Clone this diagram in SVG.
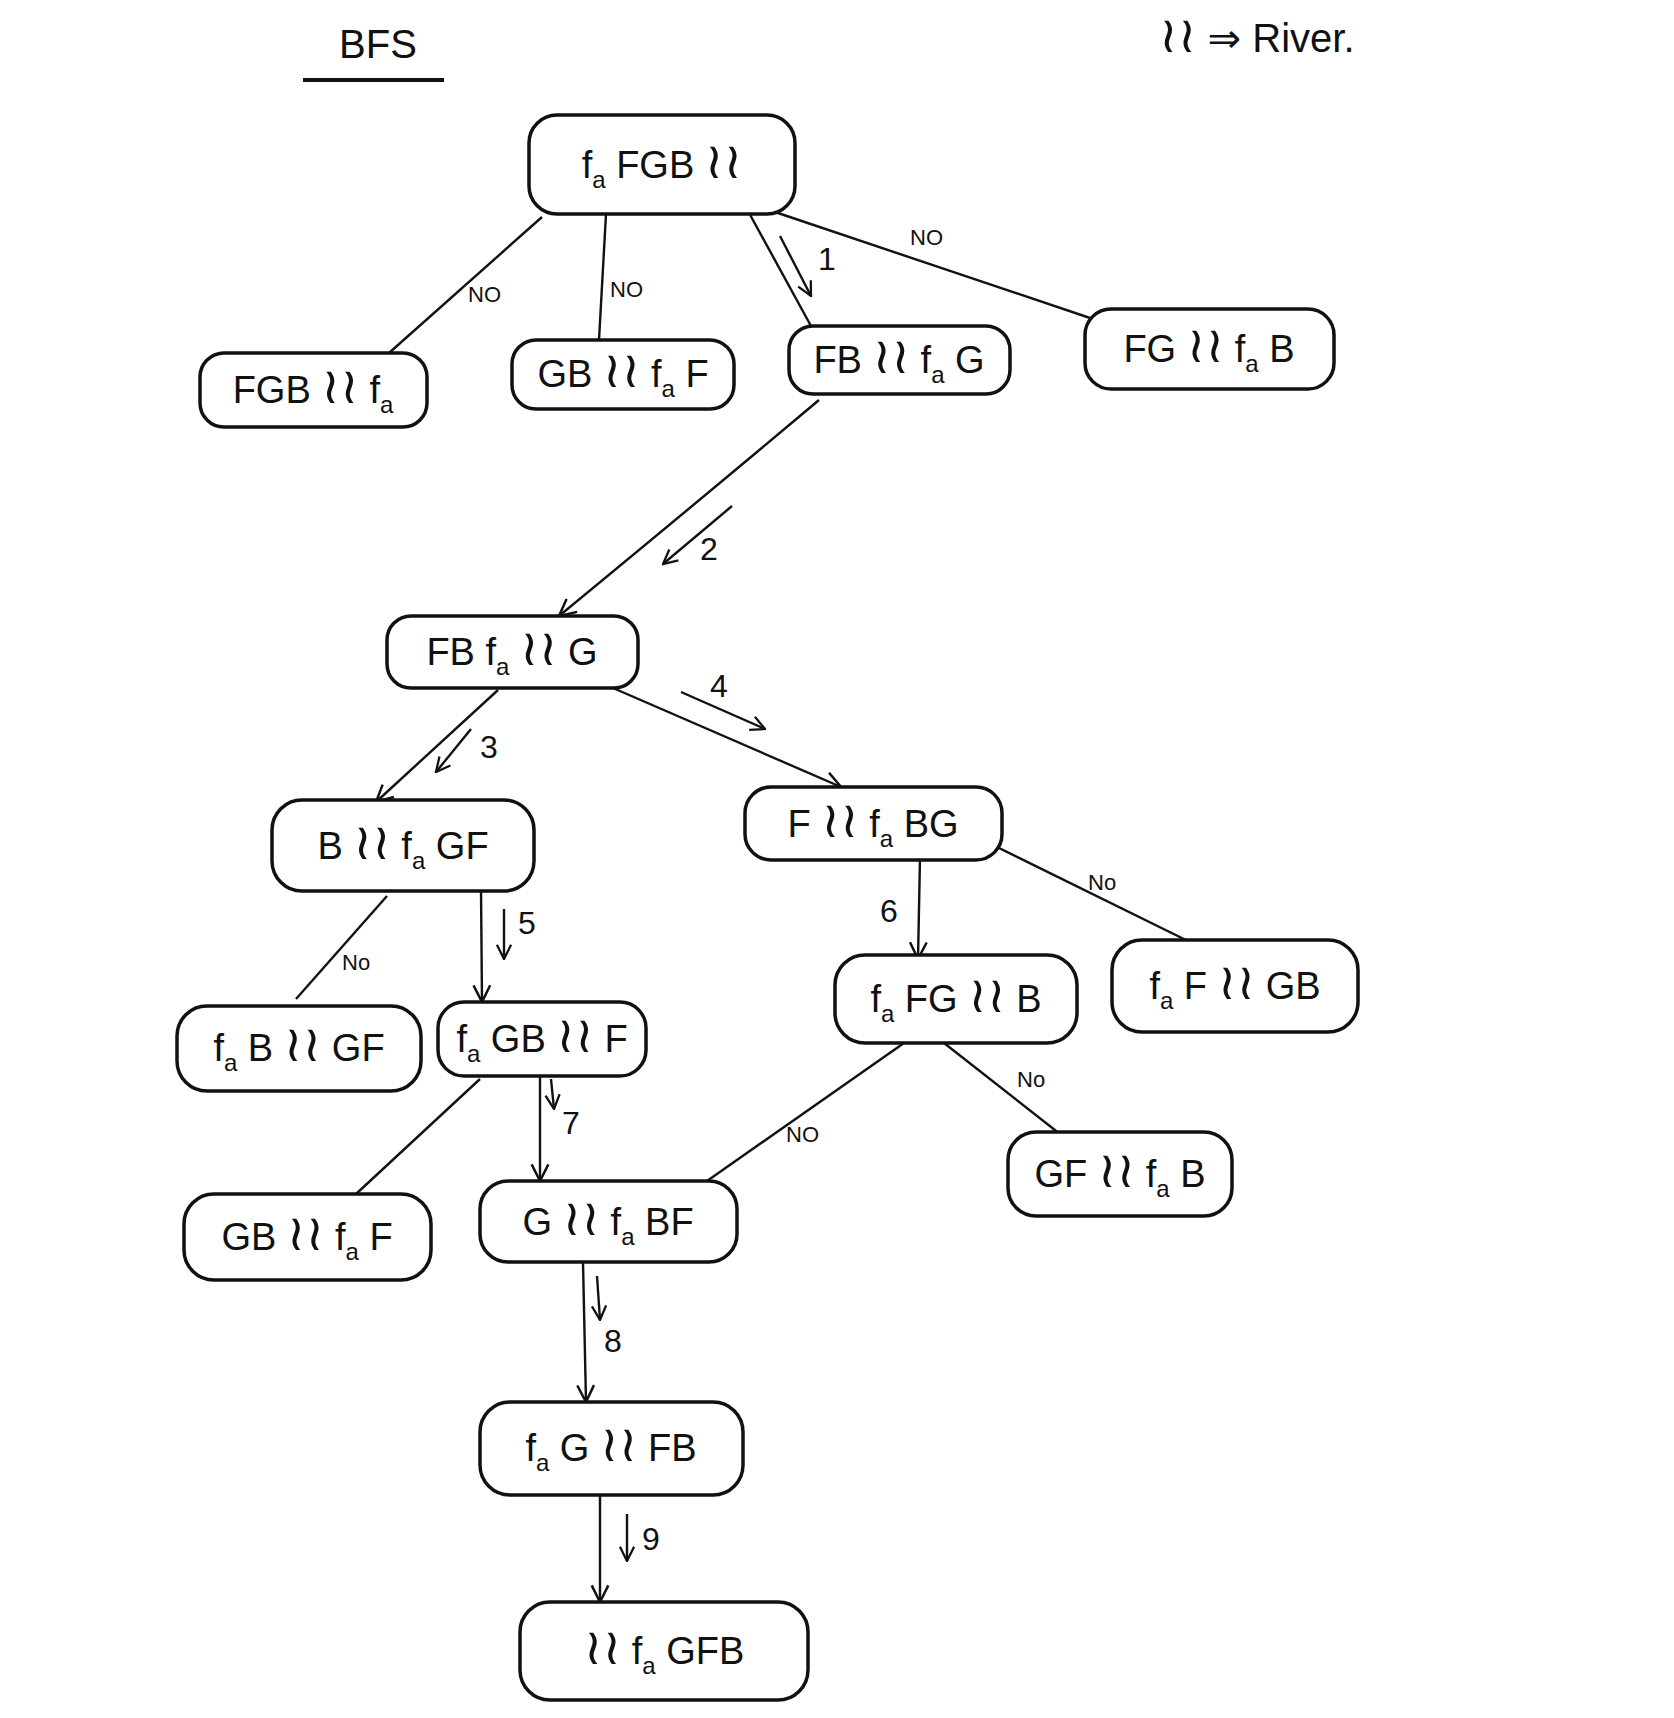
<svg xmlns="http://www.w3.org/2000/svg" width="1674" height="1718" viewBox="0 0 1674 1718">
<style>
.bg{fill:#fff}
.box{fill:#fff;stroke:#111;stroke-width:3.5}
.t{font-family:"Liberation Sans","DejaVu Sans",sans-serif;font-size:38px;fill:#111;text-anchor:middle}
.s{font-size:24px}
.r{font-size:50px}
.e{fill:none;stroke:#111;stroke-width:2.4}
.lbl{font-family:"Liberation Sans","DejaVu Sans",sans-serif;font-size:22px;fill:#111}
.num{font-family:"Liberation Sans","DejaVu Sans",sans-serif;font-size:32px;fill:#111}
.h{font-family:"Liberation Sans","DejaVu Sans",sans-serif;font-size:40px;fill:#111}
</style>
<defs>
<marker id="ah" viewBox="0 0 12 12" refX="11" refY="6" markerWidth="20" markerHeight="20" markerUnits="userSpaceOnUse" orient="auto">
<path d="M1,1 L11,6 L1,11" fill="none" stroke="#111" stroke-width="1.5"/>
</marker>
<marker id="ahs" viewBox="0 0 12 12" refX="11" refY="6" markerWidth="17" markerHeight="17" markerUnits="userSpaceOnUse" orient="auto">
<path d="M1,1 L11,6 L1,11" fill="none" stroke="#111" stroke-width="1.6"/>
</marker>
</defs>
<rect class="bg" x="0" y="0" width="1674" height="1718"/>

<g id="title">
<text class="h" x="378" y="58" text-anchor="middle">BFS</text>
<line x1="303" y1="80" x2="444" y2="80" stroke="#111" stroke-width="4"/>
</g>
<g id="legend">
<text class="h" x="1159" y="52"><tspan class="r">≀≀</tspan> ⇒ River.</text>
</g>

<g id="connectors">
<line class="e" x1="542" y1="217" x2="389" y2="353"/>
<text class="lbl" x="468" y="302">NO</text>
<line class="e" x1="606" y1="214" x2="599" y2="340"/>
<text class="lbl" x="610" y="297">NO</text>
<line class="e" x1="748" y1="211" x2="811" y2="326"/>
<line class="e" x1="780" y1="236" x2="811" y2="296" marker-end="url(#ahs)"/>
<text class="num" x="818" y="270">1</text>
<line class="e" x1="772" y1="211" x2="1096" y2="320"/>
<text class="lbl" x="910" y="245">NO</text>

<path class="e" d="M819,400 Q700,500 559,616" marker-end="url(#ah)"/>
<line class="e" x1="732" y1="506" x2="663" y2="564" marker-end="url(#ahs)"/>
<text class="num" x="700" y="560">2</text>

<line class="e" x1="498" y1="690" x2="376" y2="802" marker-end="url(#ah)"/>
<line class="e" x1="471" y1="729" x2="436" y2="772" marker-end="url(#ahs)"/>
<text class="num" x="480" y="758">3</text>
<line class="e" x1="613" y1="688" x2="841" y2="787" marker-end="url(#ah)"/>
<line class="e" x1="681" y1="692" x2="765" y2="729" marker-end="url(#ahs)"/>
<text class="num" x="710" y="697">4</text>

<line class="e" x1="387" y1="896" x2="296" y2="999"/>
<text class="lbl" x="342" y="970">No</text>
<line class="e" x1="481" y1="889" x2="482" y2="1002" marker-end="url(#ah)"/>
<line class="e" x1="504" y1="909" x2="504" y2="959" marker-end="url(#ahs)"/>
<text class="num" x="518" y="934">5</text>
<line class="e" x1="920" y1="858" x2="918" y2="959" marker-end="url(#ah)"/>
<text class="num" x="880" y="922">6</text>
<line class="e" x1="995" y1="846" x2="1194" y2="944"/>
<text class="lbl" x="1088" y="890">No</text>

<line class="e" x1="480" y1="1079" x2="356" y2="1194"/>
<line class="e" x1="540" y1="1077" x2="540" y2="1181" marker-end="url(#ah)"/>
<line class="e" x1="551" y1="1079" x2="554" y2="1109" marker-end="url(#ahs)"/>
<text class="num" x="562" y="1134">7</text>
<line class="e" x1="904" y1="1043" x2="707" y2="1181"/>
<text class="lbl" x="786" y="1142">NO</text>
<line class="e" x1="944" y1="1043" x2="1060" y2="1134"/>
<text class="lbl" x="1017" y="1087">No</text>

<line class="e" x1="583" y1="1262" x2="586" y2="1402" marker-end="url(#ah)"/>
<line class="e" x1="597" y1="1276" x2="600" y2="1320" marker-end="url(#ahs)"/>
<text class="num" x="604" y="1352">8</text>

<line class="e" x1="600" y1="1495" x2="600" y2="1602" marker-end="url(#ah)"/>
<line class="e" x1="627" y1="1514" x2="627" y2="1561" marker-end="url(#ahs)"/>
<text class="num" x="642" y="1550">9</text>
</g>

<g id="n0">
<rect class="box" x="529" y="115" width="266" height="99" rx="28"/>
<text class="t" x="662" y="178">f<tspan class="s" dy="10">a</tspan><tspan dy="-10"> FGB </tspan><tspan class="r">≀≀</tspan></text>
</g>
<g id="n1">
<rect class="box" x="200" y="353" width="227" height="74" rx="24"/>
<text class="t" x="313" y="403">FGB <tspan class="r">≀≀</tspan> f<tspan class="s" dy="10">a</tspan></text>
</g>
<g id="n2">
<rect class="box" x="512" y="340" width="222" height="69" rx="24"/>
<text class="t" x="623" y="387">GB <tspan class="r">≀≀</tspan> f<tspan class="s" dy="10">a</tspan><tspan dy="-10"> F</tspan></text>
</g>
<g id="n3">
<rect class="box" x="789" y="326" width="221" height="68" rx="24"/>
<text class="t" x="899" y="373">FB <tspan class="r">≀≀</tspan> f<tspan class="s" dy="10">a</tspan><tspan dy="-10"> G</tspan></text>
</g>
<g id="n4">
<rect class="box" x="1085" y="309" width="249" height="80" rx="26"/>
<text class="t" x="1209" y="362">FG <tspan class="r">≀≀</tspan> f<tspan class="s" dy="10">a</tspan><tspan dy="-10"> B</tspan></text>
</g>
<g id="n5">
<rect class="box" x="387" y="616" width="251" height="72" rx="24"/>
<text class="t" x="512" y="665">FB f<tspan class="s" dy="10">a</tspan><tspan dy="-10"> </tspan><tspan class="r">≀≀</tspan> G</text>
</g>
<g id="n6">
<rect class="box" x="272" y="800" width="262" height="91" rx="30"/>
<text class="t" x="403" y="859">B <tspan class="r">≀≀</tspan> f<tspan class="s" dy="10">a</tspan><tspan dy="-10"> GF</tspan></text>
</g>
<g id="n7">
<rect class="box" x="745" y="787" width="257" height="73" rx="26"/>
<text class="t" x="873" y="837">F <tspan class="r">≀≀</tspan> f<tspan class="s" dy="10">a</tspan><tspan dy="-10"> BG</tspan></text>
</g>
<g id="n8">
<rect class="box" x="177" y="1006" width="244" height="85" rx="30"/>
<text class="t" x="299" y="1061">f<tspan class="s" dy="10">a</tspan><tspan dy="-10"> B </tspan><tspan class="r">≀≀</tspan> GF</text>
</g>
<g id="n9">
<rect class="box" x="438" y="1002" width="208" height="74" rx="26"/>
<text class="t" x="542" y="1052">f<tspan class="s" dy="10">a</tspan><tspan dy="-10"> GB </tspan><tspan class="r">≀≀</tspan> F</text>
</g>
<g id="n10">
<rect class="box" x="835" y="955" width="242" height="88" rx="30"/>
<text class="t" x="956" y="1012">f<tspan class="s" dy="10">a</tspan><tspan dy="-10"> FG </tspan><tspan class="r">≀≀</tspan> B</text>
</g>
<g id="n11">
<rect class="box" x="1112" y="940" width="246" height="92" rx="30"/>
<text class="t" x="1235" y="999">f<tspan class="s" dy="10">a</tspan><tspan dy="-10"> F </tspan><tspan class="r">≀≀</tspan> GB</text>
</g>
<g id="n12">
<rect class="box" x="184" y="1194" width="247" height="86" rx="30"/>
<text class="t" x="307" y="1250">GB <tspan class="r">≀≀</tspan> f<tspan class="s" dy="10">a</tspan><tspan dy="-10"> F</tspan></text>
</g>
<g id="n13">
<rect class="box" x="480" y="1181" width="257" height="81" rx="28"/>
<text class="t" x="608" y="1235">G <tspan class="r">≀≀</tspan> f<tspan class="s" dy="10">a</tspan><tspan dy="-10"> BF</tspan></text>
</g>
<g id="n14">
<rect class="box" x="1008" y="1132" width="224" height="84" rx="28"/>
<text class="t" x="1120" y="1187">GF <tspan class="r">≀≀</tspan> f<tspan class="s" dy="10">a</tspan><tspan dy="-10"> B</tspan></text>
</g>
<g id="n15">
<rect class="box" x="480" y="1402" width="263" height="93" rx="30"/>
<text class="t" x="611" y="1461">f<tspan class="s" dy="10">a</tspan><tspan dy="-10"> G </tspan><tspan class="r">≀≀</tspan> FB</text>
</g>
<g id="n16">
<rect class="box" x="520" y="1602" width="288" height="98" rx="30"/>
<text class="t" x="664" y="1664"><tspan class="r">≀≀</tspan> f<tspan class="s" dy="10">a</tspan><tspan dy="-10"> GFB</tspan></text>
</g>
</svg>
